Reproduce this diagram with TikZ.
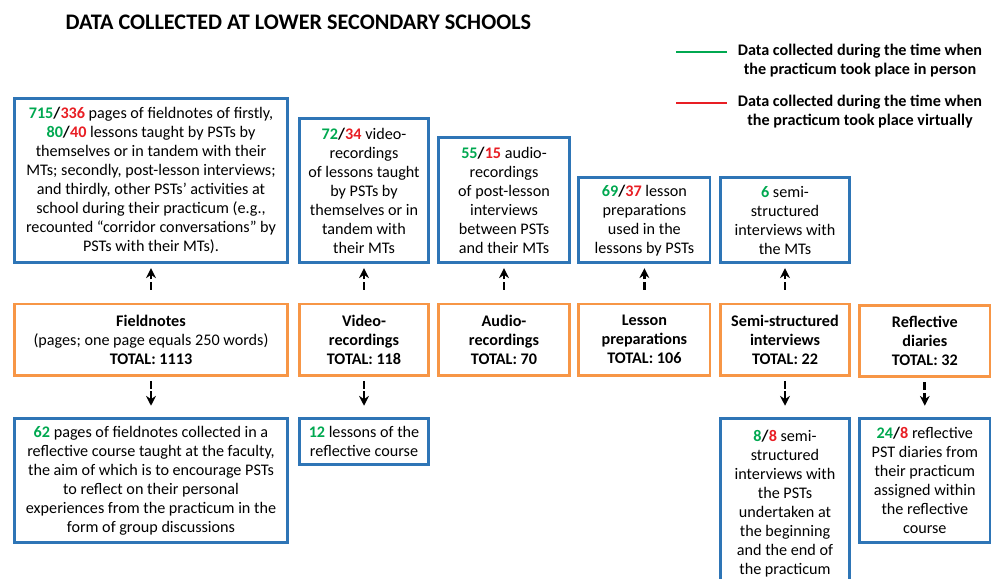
\documentclass[tikz,border=0pt]{standalone}
\usepackage{fontspec}
\setmainfont{Carlito}
\usepackage{xcolor}
\usepackage{tikz}
\usetikzlibrary{arrows.meta,positioning}
\definecolor{boxblue}{RGB}{46,117,182}
\definecolor{boxorange}{RGB}{247,150,70}
\definecolor{persongreen}{RGB}{0,168,80}
\definecolor{virtualred}{RGB}{232,30,36}
\newcommand{\diagfont}{\fontsize{11.5}{13.5}\selectfont}
\newcommand{\pers}[1]{\textcolor{persongreen}{\textbf{#1}}}
\newcommand{\virt}[1]{\textcolor{virtualred}{\textbf{#1}}}

\begin{document}
\begin{tikzpicture}[>={Stealth[length=7pt,width=7pt]},
  bluebox/.style={rectangle, draw=boxblue, line width=2pt, align=center, inner sep=2pt, font=\diagfont},
  orangebox/.style={rectangle, draw=boxorange, line width=2pt, align=center, inner sep=2pt, font=\diagfont\bfseries, minimum height=1.78cm},
  legendtext/.style={align=center, font=\diagfont\bfseries},
  dashup/.style={->, line width=2pt, dash pattern=on 5.5pt off 2pt, shorten <=9pt, shorten >=3pt},
  dashdown/.style={->, line width=2pt, dash pattern=on 5.5pt off 2pt, shorten <=3pt, shorten >=8pt}]
\useasboundingbox (0,0) rectangle (24.825,-14.475);
\clip (0,0) rectangle (24.825,-14.475);
% Title and legend
\node[font=\fontsize{15.8}{19}\selectfont\bfseries] (title) at (7.46,-0.55) {DATA COLLECTED AT LOWER SECONDARY SCHOOLS};
\coordinate (gA) at (16.9,-1.3);
\coordinate (gB) at (18.175,-1.3);
\draw[persongreen, line width=2pt] (gA) -- (gB);
\node[legendtext] (lgPerson) at (21.5,-1.51) {Data collected during the time when\\the practicum took place in person};
\coordinate (rA) at (16.9,-2.575);
\coordinate (rB) at (18.175,-2.575);
\draw[virtualred, line width=2pt] (rA) -- (rB);
\node[legendtext] (lgVirtual) at (21.5,-2.79) {Data collected during the time when\\the practicum took place virtually};
% Top row: what was collected in person / virtually
\node[bluebox, anchor=south, minimum width=6.82cm, minimum height=4.1cm] (fnTop) at (3.775,-6.6) {\pers{715}\textbf{/}\virt{336} pages of fieldnotes of firstly,\\\pers{80}\textbf{/}\virt{40} lessons taught by PSTs by\\themselves or in tandem with their\\MTs; secondly, post-lesson interviews;\\and thirdly, other PSTs' activities at\\school during their practicum (e.g.,\\recounted ``corridor conversations'' by\\PSTs with their MTs).};
\node[bluebox, anchor=south, minimum width=3.24cm, minimum height=3.6cm] (vrTop) at (9.1,-6.6) {\pers{72}\textbf{/}\virt{34} video-\\recordings\\of lessons taught\\by PSTs by\\themselves or in\\tandem with\\their MTs};
\node[bluebox, anchor=south, minimum width=3.26cm, minimum height=3.12cm] (arTop) at (12.6,-6.6) {\pers{55}\textbf{/}\virt{15} audio-\\recordings\\of post-lesson\\interviews\\between PSTs\\and their MTs};
\node[bluebox, anchor=south, minimum width=3.28cm, minimum height=2.12cm] (lpTop) at (16.11,-6.6) {\pers{69}\textbf{/}\virt{37} lesson\\preparations\\used in the\\lessons by PSTs};
\node[bluebox, anchor=south, minimum width=3.24cm, minimum height=2.12cm] (siTop) at (19.625,-6.6) {\pers{6} semi-\\structured\\interviews with\\the MTs};
% Middle row: totals
\node[orangebox, minimum width=6.82cm] (fnTot) at (3.775,-8.49) {Fieldnotes\\\mdseries(pages; one page equals 250 words)\\TOTAL: 1113};
\node[orangebox, minimum width=3.24cm] (vrTot) at (9.1,-8.49) {Video-\\recordings\\TOTAL: 118};
\node[orangebox, minimum width=3.26cm] (arTot) at (12.6,-8.49) {Audio-\\recordings\\TOTAL: 70};
\node[orangebox, minimum width=3.28cm] (lpTot) at (16.11,-8.49) {Lesson\\preparations\\TOTAL: 106};
\node[orangebox, minimum width=3.24cm] (siTot) at (19.625,-8.49) {Semi-structured\\interviews\\TOTAL: 22};
\node[orangebox, minimum width=3.26cm] (rdTot) at (23.12,-8.53) {Reflective\\diaries\\TOTAL: 32};
% Bottom row: reflective course
\node[bluebox, anchor=north, minimum width=6.82cm, minimum height=3.1cm] (fnBot) at (3.775,-10.425) {\pers{62} pages of fieldnotes collected in a\\reflective course taught at the faculty,\\the aim of which is to encourage PSTs\\to reflect on their personal\\experiences from the practicum in the\\form of group discussions};
\node[bluebox, anchor=north, minimum width=3.24cm, minimum height=1.16cm] (vrBot) at (9.1,-10.425) {\pers{12} lessons of the\\reflective course};
\node[bluebox, anchor=north, minimum width=3.24cm, minimum height=4.25cm] (siBot) at (19.625,-10.425) {\pers{8}\textbf{/}\virt{8} semi-\\structured\\interviews with\\the PSTs\\undertaken at\\the beginning\\and the end of\\the practicum};
\node[bluebox, anchor=north, minimum width=3.26cm, minimum height=3.1cm] (rdBot) at (23.12,-10.425) {\pers{24}\textbf{/}\virt{8} reflective\\PST diaries from\\their practicum\\assigned within\\the reflective\\course};
% Arrows
\draw[dashup] (fnTot) -- (fnTop);
\draw[dashup] (vrTot) -- (vrTop);
\draw[dashup] (arTot) -- (arTop);
\draw[dashup] (lpTot) -- (lpTop);
\draw[dashup] (siTot) -- (siTop);
\draw[dashdown] (fnTot) -- (fnBot);
\draw[dashdown] (vrTot) -- (vrBot);
\draw[dashdown] (siTot) -- (siBot);
\draw[dashdown] (rdTot) -- (rdBot);
\end{tikzpicture}
\end{document}
